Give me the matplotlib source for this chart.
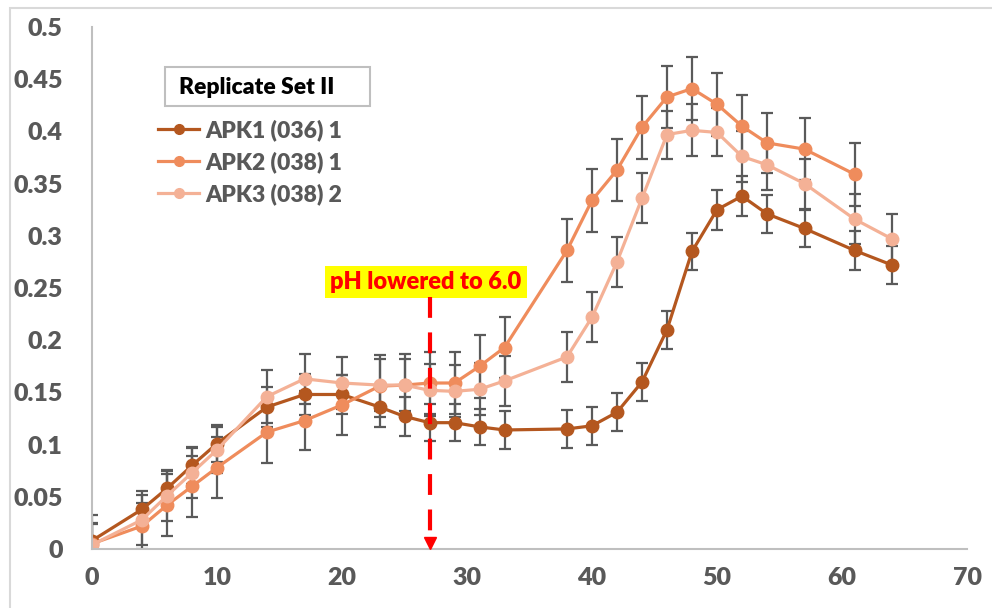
import matplotlib
matplotlib.use('Agg')
import matplotlib.pyplot as plt
from matplotlib.lines import Line2D
from matplotlib.patches import Rectangle

plt.rcParams['font.family'] = ['Lato', 'DejaVu Sans']
plt.rcParams['font.weight'] = 'heavy'

# sampling times (h)
time = [0, 4, 6, 8, 10, 14, 17, 20, 23, 25, 27, 29, 31, 33, 38, 40, 42, 44, 46, 48, 50, 52, 54, 57, 61, 64]
time_apk2 = time[:-1]

apk1 = [0.008, 0.038, 0.058, 0.080, 0.101, 0.136, 0.148, 0.148, 0.136, 0.127, 0.121, 0.121, 0.117,
        0.114, 0.115, 0.118, 0.131, 0.160, 0.210, 0.285, 0.325, 0.338, 0.321, 0.307, 0.286, 0.272]
apk1_err = [0.025, 0.018, 0.018, 0.018, 0.018, 0.019, 0.020, 0.019, 0.019, 0.019, 0.018, 0.018, 0.017,
            0.018, 0.018, 0.018, 0.018, 0.018, 0.018, 0.018, 0.019, 0.019, 0.018, 0.018, 0.019, 0.018]

apk2 = [0.005, 0.022, 0.042, 0.060, 0.078, 0.112, 0.123, 0.138, 0.156, 0.157, 0.159, 0.159, 0.175,
        0.193, 0.286, 0.334, 0.363, 0.404, 0.433, 0.441, 0.426, 0.405, 0.389, 0.383, 0.359]
apk2_err = [0.020, 0.022, 0.030, 0.029, 0.029, 0.030, 0.028, 0.029, 0.030, 0.030, 0.030, 0.030, 0.030,
            0.029, 0.030, 0.030, 0.030, 0.030, 0.030, 0.030, 0.030, 0.030, 0.029, 0.030, 0.030]

apk3 = [0.004, 0.028, 0.051, 0.073, 0.095, 0.146, 0.163, 0.159, 0.157, 0.157, 0.152, 0.151, 0.153,
        0.161, 0.184, 0.222, 0.275, 0.336, 0.397, 0.401, 0.399, 0.376, 0.368, 0.350, 0.316, 0.297]
apk3_err = [0.020, 0.024, 0.024, 0.024, 0.022, 0.025, 0.024, 0.025, 0.025, 0.025, 0.025, 0.025, 0.025,
            0.024, 0.024, 0.024, 0.024, 0.024, 0.023, 0.025, 0.023, 0.024, 0.024, 0.024, 0.024, 0.024]

labels = ['APK1 (036) 1', 'APK2 (038) 1', 'APK3 (038) 2']
colors = ['#B4571F', '#EF8C5C', '#F4B196']

ph_change_time = 27
ph_label_y = 0.256
ph_arrow_top = 0.241

x_ticks = [0, 10, 20, 30, 40, 50, 60, 70]
y_ticks = [0, 0.05, 0.1, 0.15, 0.2, 0.25, 0.3, 0.35, 0.4, 0.45, 0.5]
y_tick_labels = ['0', '0.05', '0.1', '0.15', '0.2', '0.25', '0.3', '0.35', '0.4', '0.45', '0.5']

W, H = 992, 608
fig = plt.figure(figsize=(W / 100, H / 100), dpi=100)
ax = fig.add_axes([92 / W, 1 - 549 / H, (967 - 92) / W, (549 - 27) / H])

# chart area border
fig.patches.append(Rectangle((10 / W, -0.05), 1.0, 1 - 8 / H + 0.05, transform=fig.transFigure,
                             fill=False, edgecolor='#D9D9D9', lw=1.5))

series = [(time, apk1, apk1_err), (time_apk2, apk2, apk2_err), (time, apk3, apk3_err)]
for (t, y, e), c in zip(series, colors):
    ax.errorbar(t, y, yerr=e, color=c, marker='o', ms=9, lw=2.3,
                ecolor='#5A5A5A', elinewidth=1.6, capsize=4, capthick=1.6)

ax.set_xlim(0, 70)
ax.set_ylim(0, 0.5)
ax.set_xticks(x_ticks)
ax.set_yticks(y_ticks)
ax.set_yticklabels(y_tick_labels)
ax.tick_params(length=0, labelsize=18, labelcolor='#595959')
ax.tick_params(axis='y', pad=21)
ax.tick_params(axis='x', pad=13)
for lab in ax.get_xticklabels() + ax.get_yticklabels():
    lab.set_fontweight('heavy')
for s in ['top', 'right']:
    ax.spines[s].set_visible(False)
ax.spines['left'].set_color('#BFBFBF')
ax.spines['bottom'].set_color('#BFBFBF')
ax.spines['left'].set_linewidth(1.5)
ax.spines['bottom'].set_linewidth(1.5)

# pH change marker
ax.plot([ph_change_time, ph_change_time], [ph_arrow_top, 0.012], color='red', lw=3,
        linestyle=(0, (5, 3.5)), zorder=5)
ax.plot([ph_change_time], [0.006], marker='v', color='red', ms=9, zorder=5, clip_on=False)
ax.text(26.7, ph_label_y, 'pH lowered to 6.0', ha='center', va='center', color='red',
        fontsize=17, fontweight='heavy',
        bbox=dict(facecolor='yellow', edgecolor='none', boxstyle='square,pad=0.22'))

# legend with a boxed title
fig.patches.append(Rectangle((165 / W, 1 - 106 / H), 205 / W, 39 / H, transform=fig.transFigure,
                             fill=False, edgecolor='#BFBFBF', lw=1.5))
fig.text(179 / W, 1 - 87 / H, 'Replicate Set II', ha='left', va='center', fontsize=16.5,
         fontweight='heavy', color='black')
handles = [Line2D([], [], color=c, marker='o', ms=7, lw=2.3) for c in colors]
leg = ax.legend(handles, labels, loc='upper left', bbox_to_anchor=(158 / W, 1 - 119 / H),
                bbox_transform=fig.transFigure, frameon=False, fontsize=16.5,
                handlelength=1.8, handletextpad=0.25, labelspacing=0.45, borderpad=0, borderaxespad=0)
for t in leg.get_texts():
    t.set_color('#595959')
    t.set_fontweight('heavy')

fig.savefig('out.png', dpi=100)
